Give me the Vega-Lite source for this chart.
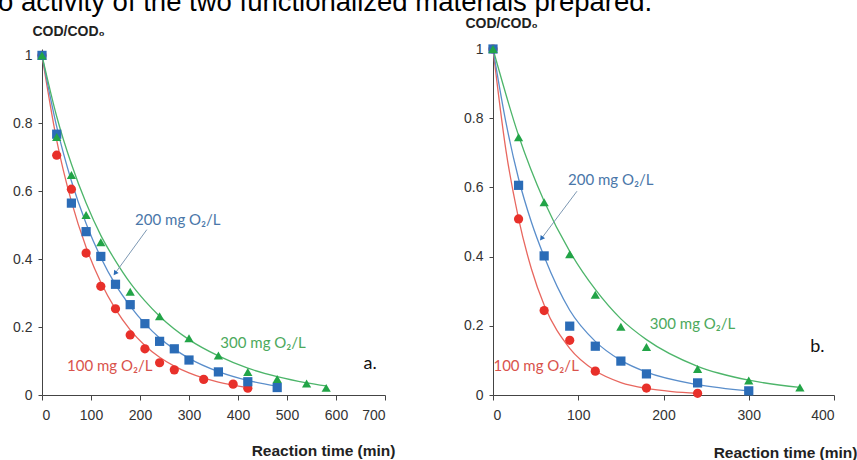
{
  "$schema": "https://vega.github.io/schema/vega-lite/v6.json",
  "autosize": {"type": "none"},
  "padding": {"left": 42, "top": 49, "right": 815, "bottom": 411},
  "background": "white",
  "title": {"text": "o activity of the two functionalized materials prepared.", "anchor": "start", "frame": "group", "font": "Liberation Sans", "fontSize": 27.5, "fontWeight": "normal", "color": "#000", "dx": -44, "offset": 0},
  "config": {
    "view": {"stroke": null},
    "axis": {"grid": false, "domainColor": "#444", "tickColor": "#444", "labelColor": "#333", "labelFont": "Liberation Sans", "labelFontSize": 14, "titleFont": "Liberation Sans", "titleColor": "#222", "titleFontWeight": "bold"},
    "text": {"font": "Lato"}
  },
  "datasets": {
    "pts": [
      {"panel": "a", "series": "100", "t": 0, "v": 1.0},
      {"panel": "a", "series": "100", "t": 30, "v": 0.706},
      {"panel": "a", "series": "100", "t": 60, "v": 0.606},
      {"panel": "a", "series": "100", "t": 90, "v": 0.418},
      {"panel": "a", "series": "100", "t": 120, "v": 0.32},
      {"panel": "a", "series": "100", "t": 150, "v": 0.254},
      {"panel": "a", "series": "100", "t": 180, "v": 0.177},
      {"panel": "a", "series": "100", "t": 210, "v": 0.136},
      {"panel": "a", "series": "100", "t": 240, "v": 0.095},
      {"panel": "a", "series": "100", "t": 270, "v": 0.074},
      {"panel": "a", "series": "100", "t": 330, "v": 0.046},
      {"panel": "a", "series": "100", "t": 390, "v": 0.032},
      {"panel": "a", "series": "100", "t": 420, "v": 0.02},
      {"panel": "a", "series": "200", "t": 0, "v": 1.0},
      {"panel": "a", "series": "200", "t": 30, "v": 0.768},
      {"panel": "a", "series": "200", "t": 60, "v": 0.565},
      {"panel": "a", "series": "200", "t": 90, "v": 0.481},
      {"panel": "a", "series": "200", "t": 120, "v": 0.408},
      {"panel": "a", "series": "200", "t": 150, "v": 0.326},
      {"panel": "a", "series": "200", "t": 180, "v": 0.266},
      {"panel": "a", "series": "200", "t": 210, "v": 0.21},
      {"panel": "a", "series": "200", "t": 240, "v": 0.158},
      {"panel": "a", "series": "200", "t": 270, "v": 0.136},
      {"panel": "a", "series": "200", "t": 300, "v": 0.103},
      {"panel": "a", "series": "200", "t": 360, "v": 0.068},
      {"panel": "a", "series": "200", "t": 420, "v": 0.039},
      {"panel": "a", "series": "200", "t": 480, "v": 0.022},
      {"panel": "a", "series": "300", "t": 0, "v": 1.0},
      {"panel": "a", "series": "300", "t": 30, "v": 0.76},
      {"panel": "a", "series": "300", "t": 60, "v": 0.648},
      {"panel": "a", "series": "300", "t": 90, "v": 0.53},
      {"panel": "a", "series": "300", "t": 120, "v": 0.45},
      {"panel": "a", "series": "300", "t": 180, "v": 0.304},
      {"panel": "a", "series": "300", "t": 240, "v": 0.232},
      {"panel": "a", "series": "300", "t": 300, "v": 0.167},
      {"panel": "a", "series": "300", "t": 360, "v": 0.116},
      {"panel": "a", "series": "300", "t": 420, "v": 0.068},
      {"panel": "a", "series": "300", "t": 480, "v": 0.047},
      {"panel": "a", "series": "300", "t": 540, "v": 0.034},
      {"panel": "a", "series": "300", "t": 580, "v": 0.021},
      {"panel": "b", "series": "100", "t": 0, "v": 1.0},
      {"panel": "b", "series": "100", "t": 30, "v": 0.509},
      {"panel": "b", "series": "100", "t": 60, "v": 0.244},
      {"panel": "b", "series": "100", "t": 90, "v": 0.158},
      {"panel": "b", "series": "100", "t": 120, "v": 0.069},
      {"panel": "b", "series": "100", "t": 180, "v": 0.02},
      {"panel": "b", "series": "100", "t": 240, "v": 0.005},
      {"panel": "b", "series": "200", "t": 0, "v": 1.0},
      {"panel": "b", "series": "200", "t": 30, "v": 0.606},
      {"panel": "b", "series": "200", "t": 60, "v": 0.402},
      {"panel": "b", "series": "200", "t": 90, "v": 0.199},
      {"panel": "b", "series": "200", "t": 120, "v": 0.141},
      {"panel": "b", "series": "200", "t": 150, "v": 0.098},
      {"panel": "b", "series": "200", "t": 180, "v": 0.061},
      {"panel": "b", "series": "200", "t": 240, "v": 0.035},
      {"panel": "b", "series": "200", "t": 300, "v": 0.012},
      {"panel": "b", "series": "300", "t": 0, "v": 1.0},
      {"panel": "b", "series": "300", "t": 30, "v": 0.745},
      {"panel": "b", "series": "300", "t": 60, "v": 0.557},
      {"panel": "b", "series": "300", "t": 90, "v": 0.407},
      {"panel": "b", "series": "300", "t": 120, "v": 0.29},
      {"panel": "b", "series": "300", "t": 150, "v": 0.197},
      {"panel": "b", "series": "300", "t": 180, "v": 0.139},
      {"panel": "b", "series": "300", "t": 240, "v": 0.075},
      {"panel": "b", "series": "300", "t": 300, "v": 0.042},
      {"panel": "b", "series": "300", "t": 360, "v": 0.022}
    ],
    "curves": [
      {"panel": "a", "series": "100", "t": 0, "v": 1.0},
      {"panel": "a", "series": "100", "t": 30, "v": 0.75},
      {"panel": "a", "series": "100", "t": 60, "v": 0.57},
      {"panel": "a", "series": "100", "t": 90, "v": 0.435},
      {"panel": "a", "series": "100", "t": 120, "v": 0.332},
      {"panel": "a", "series": "100", "t": 150, "v": 0.253},
      {"panel": "a", "series": "100", "t": 180, "v": 0.192},
      {"panel": "a", "series": "100", "t": 210, "v": 0.146},
      {"panel": "a", "series": "100", "t": 240, "v": 0.111},
      {"panel": "a", "series": "100", "t": 270, "v": 0.085},
      {"panel": "a", "series": "100", "t": 300, "v": 0.065},
      {"panel": "a", "series": "100", "t": 360, "v": 0.038},
      {"panel": "a", "series": "100", "t": 420, "v": 0.022},
      {"panel": "a", "series": "200", "t": 0, "v": 1.0},
      {"panel": "a", "series": "200", "t": 30, "v": 0.79},
      {"panel": "a", "series": "200", "t": 60, "v": 0.63},
      {"panel": "a", "series": "200", "t": 90, "v": 0.505},
      {"panel": "a", "series": "200", "t": 120, "v": 0.405},
      {"panel": "a", "series": "200", "t": 150, "v": 0.325},
      {"panel": "a", "series": "200", "t": 180, "v": 0.262},
      {"panel": "a", "series": "200", "t": 210, "v": 0.21},
      {"panel": "a", "series": "200", "t": 240, "v": 0.168},
      {"panel": "a", "series": "200", "t": 270, "v": 0.135},
      {"panel": "a", "series": "200", "t": 300, "v": 0.108},
      {"panel": "a", "series": "200", "t": 360, "v": 0.069},
      {"panel": "a", "series": "200", "t": 420, "v": 0.043},
      {"panel": "a", "series": "200", "t": 480, "v": 0.026},
      {"panel": "a", "series": "300", "t": 0, "v": 1.0},
      {"panel": "a", "series": "300", "t": 30, "v": 0.82},
      {"panel": "a", "series": "300", "t": 60, "v": 0.68},
      {"panel": "a", "series": "300", "t": 90, "v": 0.565},
      {"panel": "a", "series": "300", "t": 120, "v": 0.47},
      {"panel": "a", "series": "300", "t": 150, "v": 0.395},
      {"panel": "a", "series": "300", "t": 180, "v": 0.33},
      {"panel": "a", "series": "300", "t": 210, "v": 0.277},
      {"panel": "a", "series": "300", "t": 240, "v": 0.232},
      {"panel": "a", "series": "300", "t": 300, "v": 0.163},
      {"panel": "a", "series": "300", "t": 360, "v": 0.115},
      {"panel": "a", "series": "300", "t": 420, "v": 0.079},
      {"panel": "a", "series": "300", "t": 480, "v": 0.054},
      {"panel": "a", "series": "300", "t": 540, "v": 0.036},
      {"panel": "a", "series": "300", "t": 580, "v": 0.027},
      {"panel": "b", "series": "100", "t": 0, "v": 1.0},
      {"panel": "b", "series": "100", "t": 15, "v": 0.71},
      {"panel": "b", "series": "100", "t": 30, "v": 0.51},
      {"panel": "b", "series": "100", "t": 45, "v": 0.365},
      {"panel": "b", "series": "100", "t": 60, "v": 0.26},
      {"panel": "b", "series": "100", "t": 90, "v": 0.135},
      {"panel": "b", "series": "100", "t": 120, "v": 0.07},
      {"panel": "b", "series": "100", "t": 150, "v": 0.036},
      {"panel": "b", "series": "100", "t": 180, "v": 0.019},
      {"panel": "b", "series": "100", "t": 210, "v": 0.01},
      {"panel": "b", "series": "100", "t": 240, "v": 0.005},
      {"panel": "b", "series": "200", "t": 0, "v": 1.0},
      {"panel": "b", "series": "200", "t": 15, "v": 0.79},
      {"panel": "b", "series": "200", "t": 30, "v": 0.625},
      {"panel": "b", "series": "200", "t": 45, "v": 0.5},
      {"panel": "b", "series": "200", "t": 60, "v": 0.4},
      {"panel": "b", "series": "200", "t": 90, "v": 0.245},
      {"panel": "b", "series": "200", "t": 120, "v": 0.155},
      {"panel": "b", "series": "200", "t": 150, "v": 0.1},
      {"panel": "b", "series": "200", "t": 180, "v": 0.066},
      {"panel": "b", "series": "200", "t": 240, "v": 0.03},
      {"panel": "b", "series": "200", "t": 300, "v": 0.012},
      {"panel": "b", "series": "300", "t": 0, "v": 1.0},
      {"panel": "b", "series": "300", "t": 30, "v": 0.75},
      {"panel": "b", "series": "300", "t": 60, "v": 0.56},
      {"panel": "b", "series": "300", "t": 90, "v": 0.415},
      {"panel": "b", "series": "300", "t": 120, "v": 0.305},
      {"panel": "b", "series": "300", "t": 150, "v": 0.22},
      {"panel": "b", "series": "300", "t": 180, "v": 0.16},
      {"panel": "b", "series": "300", "t": 240, "v": 0.083},
      {"panel": "b", "series": "300", "t": 300, "v": 0.043},
      {"panel": "b", "series": "300", "t": 360, "v": 0.022}
    ],
    "labels": [
      {"panel": "a", "series": "200", "t": 190, "v": 0.515, "text": "200 mg O₂/L"},
      {"panel": "a", "series": "300", "t": 364, "v": 0.154, "text": "300 mg O₂/L"},
      {"panel": "a", "series": "100", "t": 51, "v": 0.085, "text": "100 mg O₂/L"},
      {"panel": "b", "series": "200", "t": 88, "v": 0.622, "text": "200 mg O₂/L"},
      {"panel": "b", "series": "300", "t": 184, "v": 0.204, "text": "300 mg O₂/L"},
      {"panel": "b", "series": "100", "t": 0.5, "v": 0.084, "text": "100 mg O₂/L"}
    ],
    "tags": [
      {"panel": "a", "t": 656, "v": 0.09, "text": "a."},
      {"panel": "b", "t": 372, "v": 0.138, "text": "b."}
    ],
    "arrows": [
      {"panel": "a", "t": 214, "v": 0.487, "t2": 150, "v2": 0.36},
      {"panel": "b", "t": 98.5, "v": 0.589, "t2": 57.4, "v2": 0.454}
    ]
  },
  "spacing": 108,
  "bounds": "flush",
  "hconcat": [
    {
      "width": 343,
      "height": 346,
      "encoding": {
        "x": {"field": "t", "type": "quantitative", "scale": {"domain": [0, 700], "nice": false}, "axis": {"values": [0, 100, 200, 300, 400, 500, 600, 700], "tickSize": 5, "labelPadding": 8, "title": "Reaction time (min)", "titleFontSize": 15.5, "titleAngle": 0, "titleX": 353, "titleY": 55, "titleAlign": "right", "titleBaseline": "middle"}},
        "y": {"field": "v", "type": "quantitative", "scale": {"domain": [0, 1.0188], "nice": false}, "axis": {"values": [0, 0.2, 0.4, 0.6, 0.8, 1], "format": "~g", "tickSize": 4, "labelPadding": 6, "title": "COD/COD₀", "titleFontSize": 14, "titleAngle": 0, "titleX": -10, "titleY": -18, "titleAlign": "left", "titleBaseline": "middle"}}
      },
      "layer": [
        {
          "data": {"name": "curves"},
          "transform": [{"filter": "datum.panel === 'a'"}],
          "mark": {"type": "line", "interpolate": "monotone", "strokeWidth": 1.3},
          "encoding": {
            "detail": {"field": "series"},
            "color": {"field": "series", "type": "nominal", "scale": {"domain": ["100", "200", "300"], "range": ["#e8675f", "#5a8ecb", "#4db56a"]}, "legend": null}
          }
        },
        {
          "data": {"name": "pts"},
          "transform": [{"filter": "datum.panel === 'a'"}],
          "mark": {"type": "point", "filled": true, "opacity": 1, "size": 85},
          "encoding": {
            "color": {"field": "series", "type": "nominal", "scale": {"domain": ["100", "200", "300"], "range": ["#e8302a", "#2b6cb7", "#22a447"]}, "legend": null},
            "shape": {"field": "series", "type": "nominal", "scale": {"domain": ["100", "200", "300"], "range": ["circle", "square", "triangle-up"]}, "legend": null}
          }
        },
        {
          "data": {"name": "arrows"},
          "transform": [{"filter": "datum.panel === 'a'"}],
          "mark": {"type": "rule", "color": "#7d98b3", "strokeWidth": 1},
          "encoding": {"x2": {"field": "t2"}, "y2": {"field": "v2"}}
        },
        {
          "data": {"name": "arrows"},
          "transform": [{"filter": "datum.panel === 'a'"}],
          "mark": {"type": "point", "shape": "triangle", "filled": true, "color": "#2b6cb7", "opacity": 1, "size": 30, "angle": 216},
          "encoding": {"x": {"field": "t2", "type": "quantitative"}, "y": {"field": "v2", "type": "quantitative"}}
        },
        {
          "data": {"name": "labels"},
          "transform": [{"filter": "datum.panel === 'a'"}],
          "mark": {"type": "text", "align": "left", "baseline": "middle", "fontSize": 15},
          "encoding": {
            "text": {"field": "text"},
            "color": {"field": "series", "type": "nominal", "scale": {"domain": ["100", "200", "300"], "range": ["#d9534c", "#4a77a9", "#4ca95c"]}, "legend": null}
          }
        },
        {
          "data": {"name": "tags"},
          "transform": [{"filter": "datum.panel === 'a'"}],
          "mark": {"type": "text", "align": "left", "baseline": "middle", "fontSize": 18, "color": "#111"},
          "encoding": {"text": {"field": "text"}}
        }
      ],
      "resolve": {"scale": {"color": "independent"}}
    },
    {
      "width": 341,
      "height": 346,
      "encoding": {
        "x": {"field": "t", "type": "quantitative", "scale": {"domain": [0, 400], "nice": false}, "axis": {"values": [0, 100, 200, 300, 400], "tickSize": 5, "labelPadding": 8, "title": "Reaction time (min)", "titleFontSize": 15.5, "titleAngle": 0, "titleX": 364, "titleY": 57.5, "titleAlign": "right", "titleBaseline": "middle"}},
        "y": {"field": "v", "type": "quantitative", "scale": {"domain": [0, 1], "nice": false}, "axis": {"values": [0, 0.2, 0.4, 0.6, 0.8, 1], "format": "~g", "tickSize": 4, "labelPadding": 6, "title": "COD/COD₀", "titleFontSize": 14, "titleAngle": 0, "titleX": -28, "titleY": -26, "titleAlign": "left", "titleBaseline": "middle"}}
      },
      "layer": [
        {
          "data": {"name": "curves"},
          "transform": [{"filter": "datum.panel === 'b'"}],
          "mark": {"type": "line", "interpolate": "monotone", "strokeWidth": 1.3},
          "encoding": {
            "detail": {"field": "series"},
            "color": {"field": "series", "type": "nominal", "scale": {"domain": ["100", "200", "300"], "range": ["#e8675f", "#5a8ecb", "#4db56a"]}, "legend": null}
          }
        },
        {
          "data": {"name": "pts"},
          "transform": [{"filter": "datum.panel === 'b'"}],
          "mark": {"type": "point", "filled": true, "opacity": 1, "size": 85},
          "encoding": {
            "color": {"field": "series", "type": "nominal", "scale": {"domain": ["100", "200", "300"], "range": ["#e8302a", "#2b6cb7", "#22a447"]}, "legend": null},
            "shape": {"field": "series", "type": "nominal", "scale": {"domain": ["100", "200", "300"], "range": ["circle", "square", "triangle-up"]}, "legend": null}
          }
        },
        {
          "data": {"name": "arrows"},
          "transform": [{"filter": "datum.panel === 'b'"}],
          "mark": {"type": "rule", "color": "#7d98b3", "strokeWidth": 1},
          "encoding": {"x2": {"field": "t2"}, "y2": {"field": "v2"}}
        },
        {
          "data": {"name": "arrows"},
          "transform": [{"filter": "datum.panel === 'b'"}],
          "mark": {"type": "point", "shape": "triangle", "filled": true, "color": "#2b6cb7", "opacity": 1, "size": 30, "angle": 217},
          "encoding": {"x": {"field": "t2", "type": "quantitative"}, "y": {"field": "v2", "type": "quantitative"}}
        },
        {
          "data": {"name": "labels"},
          "transform": [{"filter": "datum.panel === 'b'"}],
          "mark": {"type": "text", "align": "left", "baseline": "middle", "fontSize": 15},
          "encoding": {
            "text": {"field": "text"},
            "color": {"field": "series", "type": "nominal", "scale": {"domain": ["100", "200", "300"], "range": ["#d9534c", "#4a77a9", "#4ca95c"]}, "legend": null}
          }
        },
        {
          "data": {"name": "tags"},
          "transform": [{"filter": "datum.panel === 'b'"}],
          "mark": {"type": "text", "align": "left", "baseline": "middle", "fontSize": 18, "color": "#111"},
          "encoding": {"text": {"field": "text"}}
        }
      ],
      "resolve": {"scale": {"color": "independent"}}
    }
  ]
}
